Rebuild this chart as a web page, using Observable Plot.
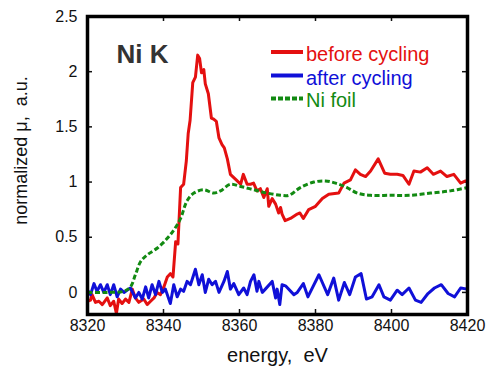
<!DOCTYPE html>
<html><head><meta charset="utf-8">
<script src="https://cdn.jsdelivr.net/npm/d3@7"></script>
<script src="https://cdn.jsdelivr.net/npm/@observablehq/plot@0.6"></script>
<style>
body{margin:0;background:#fff}
svg text{white-space:pre}
</style>
</head><body><div id="chart"></div>
<script>
// ---- data ----
const beforeE = [8320,8320.8,8321.2,8322.1,8323.0,8323.9,8325.2,8326.0,8326.9,8327.6,8328.2,8329.1,8330.0,8330.9,8331.8,8332.6,8333.5,8334.8,8335.7,8336.6,8337.5,8338.3,8339.2,8340.1,8341.0,8341.8,8342.5,8343.2,8343.8,8344.5,8345.3,8346.0,8346.5,8347.0,8347.7,8348.4,8349.0,8349.5,8350.0,8350.6,8351.0,8351.8,8352.6,8353.2,8353.9,8354.6,8355.4,8356.0,8356.8,8357.6,8358.5,8359.4,8360.3,8361.0,8362.0,8362.9,8363.7,8364.6,8365.5,8366.4,8367.3,8367.7,8368.6,8369.5,8370.3,8370.8,8371.2,8372.0,8373.4,8375.2,8375.9,8376.8,8378.2,8380.0,8381.8,8383.5,8386.1,8387.5,8389.2,8390.5,8391.8,8393.2,8394.5,8396.5,8398.2,8399.7,8401.5,8403.0,8404.6,8405.9,8407.6,8409.4,8411.0,8412.9,8414.6,8416.4,8418.2,8419.5,8420];
const beforeV = [-0.08,-0.07,-0.02,-0.09,-0.08,-0.11,-0.05,-0.12,-0.08,-0.19,-0.06,-0.10,-0.06,-0.09,0.03,-0.05,-0.09,-0.06,-0.11,-0.08,-0.05,0.0,-0.02,0.05,0.14,0.17,0.14,0.46,0.44,0.95,0.98,1.19,1.44,1.56,1.90,1.95,2.15,2.12,1.99,2.02,1.89,1.80,1.58,1.57,1.55,1.40,1.34,1.31,1.21,1.07,1.04,1.01,0.98,1.07,0.98,0.98,0.99,0.92,0.94,0.86,0.94,0.78,0.85,0.80,0.72,0.77,0.71,0.65,0.67,0.71,0.72,0.67,0.75,0.78,0.85,0.89,0.90,0.99,1.02,1.11,1.07,1.05,1.10,1.21,1.08,1.07,1.07,1.06,0.98,1.10,1.09,1.13,1.07,1.10,1.05,1.07,0.99,1.01,1.01];

const afterE = [8320,8320.8,8321.7,8322.5,8323.4,8324.3,8325.2,8326.0,8326.9,8327.8,8328.7,8329.6,8330.4,8331.3,8332.6,8333.5,8334.4,8335.3,8336.1,8337.0,8337.9,8338.8,8339.7,8340.5,8341.8,8342.7,8343.6,8344.5,8345.3,8346.2,8347.1,8348.4,8349.3,8350.2,8351.0,8351.9,8352.8,8353.7,8354.6,8355.9,8356.8,8357.6,8358.5,8359.8,8361.1,8362.0,8362.9,8363.8,8364.6,8365.1,8366.0,8366.8,8368.6,8369.5,8369.9,8370.6,8371.2,8372.1,8374.3,8375.2,8376.8,8378.0,8380.9,8383.2,8384.8,8386.1,8387.6,8389.0,8390.5,8392.0,8393.4,8394.9,8396.7,8398.0,8399.7,8401.5,8402.8,8404.6,8406.3,8407.8,8409.6,8411.3,8413.1,8414.9,8416.6,8418.2,8420];
const afterV = [0.02,-0.02,0.08,0.01,0.07,0.0,0.07,-0.02,0.07,-0.04,0.03,0.0,0.02,0.04,-0.05,0.0,-0.06,0.05,-0.05,0.07,-0.02,0.10,0.0,0.03,-0.10,0.07,-0.04,0.03,0.01,0.10,0.07,0.21,0.07,0.16,0.0,0.12,0.07,0.10,0.0,0.10,0.19,0.03,0.08,-0.02,0.04,-0.02,0.10,0.16,0.01,0.10,0.0,0.03,0.10,-0.05,0.03,-0.11,0.07,0.06,-0.02,0.0,0.08,-0.04,0.16,-0.02,0.13,-0.07,0.09,-0.02,0.14,0.17,-0.06,-0.04,0.07,-0.04,-0.07,0.02,-0.02,0.04,-0.07,-0.09,-0.01,0.04,0.07,-0.01,-0.04,0.04,0.03];

const foilE = [8320,8325,8329.5,8331.3,8332.6,8334.0,8335.7,8338.3,8341.0,8343.0,8344.5,8346.2,8348.0,8350.6,8353.2,8355.0,8357.6,8360.3,8363.8,8367.3,8370.8,8373.0,8376.0,8379.6,8382.6,8385.3,8388.3,8391.0,8394.5,8399.7,8405.0,8410.3,8415.5,8420];
const foilV = [0.0,0.0,0.01,0.05,0.16,0.28,0.34,0.40,0.49,0.58,0.67,0.83,0.90,0.93,0.90,0.92,0.98,0.96,0.93,0.90,0.88,0.88,0.95,1.00,1.01,0.99,0.95,0.90,0.88,0.88,0.88,0.90,0.92,0.95];

const seriesNames = ["before cycling", "after cycling", "Ni foil"];
const seriesColors = ["#e41010", "#1010d8", "#128a12"];
const xTicks = [8320, 8340, 8360, 8380, 8400, 8420];
const yTicks = [0, 0.5, 1, 1.5, 2, 2.5];
const yTickLabels = ["0", "0.5", "1", "1.5", "2", "2.5"];
const xTitle = "energy,  eV";
const yTitle = "normalized μ,  a.u.";
const panelLabel = "Ni K";

// ---- layout ----
const W = 487, H = 369, mL = 87, mR = 20, mT = 16, mB = 55;
const pw = W - mL - mR, ph = H - mT - mB, tk = 5;
const rows = (E, V) => E.map((e, i) => ({e, v: V[i]}));

const chart = Plot.plot({
  width: W, height: H,
  marginLeft: mL, marginRight: mR, marginTop: mT, marginBottom: mB,
  style: {fontFamily: "'Liberation Sans', Arial, sans-serif", background: "#fff", color: "#111"},
  x: {domain: [8320, 8420]},
  y: {domain: [-0.2, 2.5]},
  marks: [
    Plot.axisX({ticks: xTicks, tickSize: 0, tickPadding: 5, fontSize: 16, tickFormat: d => String(d), label: null}),
    Plot.axisY({ticks: yTicks, tickSize: 0, tickPadding: 10, fontSize: 16, tickFormat: d => yTickLabels[yTicks.indexOf(d)], label: null}),
    Plot.ruleX(xTicks, {insetTop: ph - tk, strokeWidth: 1.5}),
    Plot.ruleX(xTicks, {insetBottom: ph - tk, strokeWidth: 1.5}),
    Plot.ruleY(yTicks, {insetRight: pw - tk, strokeWidth: 1.5}),
    Plot.ruleY(yTicks, {insetLeft: pw - tk, strokeWidth: 1.5}),
    Plot.line(rows(beforeE, beforeV), {x: "e", y: "v", stroke: seriesColors[0], strokeWidth: 3, strokeLinejoin: "round"}),
    Plot.line(rows(afterE, afterV), {x: "e", y: "v", stroke: seriesColors[1], strokeWidth: 3, strokeLinejoin: "round"}),
    Plot.line(rows(foilE, foilV), {x: "e", y: "v", stroke: seriesColors[2], strokeWidth: 3, strokeDasharray: "5,2.5", strokeLinecap: "butt", curve: "catmull-rom"}),
    Plot.frame({strokeWidth: 3.5, stroke: "#000"}),
    Plot.text([panelLabel], {text: d => d, frameAnchor: "top-left", dx: 29, dy: 46, lineAnchor: "bottom", textAnchor: "start", fontSize: 26, fontWeight: "bold", fill: "#333"}),
    Plot.text([xTitle], {text: d => d, frameAnchor: "bottom", dy: 47, lineAnchor: "bottom", textAnchor: "middle", fontSize: 20, fill: "#111"}),
    Plot.text([yTitle], {text: d => d, frameAnchor: "left", dx: -61, dy: -15, rotate: -90, lineAnchor: "bottom", textAnchor: "middle", fontSize: 18, fill: "#111"})
  ]
});

// legend inside the plot, top-right
const svg = d3.select(chart);
const lg = svg.append("g").attr("font-family", "'Liberation Sans', Arial, sans-serif").attr("font-size", 20).attr("text-anchor", "start");
const lineY = [52, 75.5, 98.5], textY = [61, 84.5, 107];
seriesNames.forEach((name, i) => {
  lg.append("line").attr("x1", 271).attr("x2", 303).attr("y1", lineY[i]).attr("y2", lineY[i])
    .attr("stroke", seriesColors[i]).attr("stroke-width", 4)
    .attr("stroke-dasharray", i === 2 ? "5,2" : null);
  lg.append("text").attr("x", 306).attr("y", textY[i]).attr("fill", seriesColors[i]).text(name);
});
document.getElementById("chart").appendChild(chart);
</script>
</body></html>
